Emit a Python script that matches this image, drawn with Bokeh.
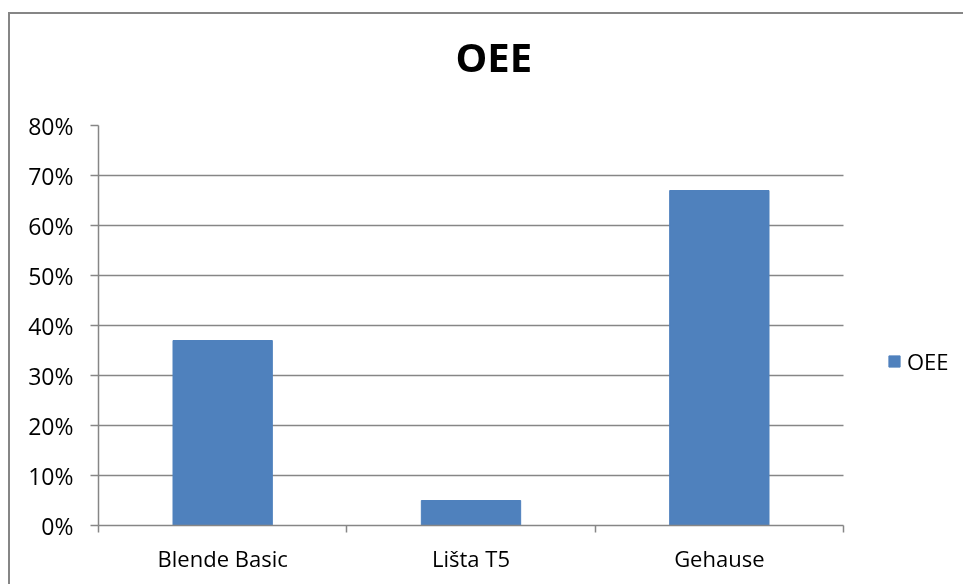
from bokeh.plotting import figure
from bokeh.models import (ColumnDataSource, FixedTicker, NumeralTickFormatter,
                          Legend, LegendItem)
from bokeh.embed import file_html
from bokeh.resources import INLINE

# Data
categories = ["Blende Basic", "Lišta T5", "Gehause"]
oee = [0.37, 0.05, 0.67]
y_ticks = [0.0, 0.1, 0.2, 0.3, 0.4, 0.5, 0.6, 0.7, 0.8]
series_name = "OEE"

FONT = "Open Sans"
GRAY = "#868686"
BAR = "#4F81BD"

n = len(categories)
# one numeric slot per category, bars centred in each slot
centers = [i + 0.5 for i in range(n)]
bounds = [float(i) for i in range(n + 1)]
src = ColumnDataSource(dict(x=centers, top=oee, cat=categories))

# plot area: 745 px for the bars, the rest on the right holds the legend
LEFT_W, PLOT_W, TOTAL_W = 90, 745, 975
FRAME_W = TOTAL_W - LEFT_W
x_end = n * FRAME_W / PLOT_W

p = figure(width=TOTAL_W, height=600, x_range=(0, x_end), y_range=(0, 0.8),
           output_backend="svg", toolbar_location=None, title=series_name,
           min_border_left=LEFT_W, min_border_right=0, min_border_top=0,
           min_border_bottom=59)
# chart area pinned to the page; thin gray frame line along top and left
line = f"linear-gradient({GRAY},{GRAY})"
p.styles = {"position": "fixed", "left": "8px", "top": "-16px",
            "background": f"{line} 0 28px / 100% 2px no-repeat, "
                          f"{line} 0 28px / 2px 100% no-repeat"}
p.outline_line_color = None
p.background_fill_color = None
p.border_fill_color = None

p.title.text_font = FONT
p.title.text_font_size = "40px"
p.title.text_font_style = "bold"
p.title.text_color = "black"
p.title.align = "left"
p.title.offset = 357
p.title.standoff = 84

r = p.vbar(x="x", top="top", bottom=0, width=0.4, source=src,
           fill_color=BAR, line_color=BAR)

# x axis: labels at slot centres, tick marks on slot boundaries
xa = p.xaxis[0]
xa.bounds = (0, n)
xa.ticker = FixedTicker(ticks=centers, minor_ticks=bounds)
xa.major_label_overrides = {c: name for c, name in zip(centers, categories)}
xa.major_tick_in = 0
xa.major_tick_out = 0
xa.minor_tick_in = 0
xa.minor_tick_out = 7
xa.minor_tick_line_color = GRAY
xa.minor_tick_line_width = 1.5
xa.axis_line_color = GRAY
xa.axis_line_width = 1.5
xa.major_label_text_font = FONT
xa.major_label_text_font_size = "22px"
xa.major_label_text_color = "black"
xa.major_label_standoff = 10
p.xgrid.visible = False

ya = p.yaxis[0]
ya.ticker = FixedTicker(ticks=y_ticks)
ya.formatter = NumeralTickFormatter(format="0%")
ya.major_tick_in = 0
ya.major_tick_out = 8
ya.minor_tick_out = 0
ya.major_tick_line_color = GRAY
ya.major_tick_line_width = 1.5
ya.axis_line_color = GRAY
ya.axis_line_width = 1.5
ya.major_label_text_font = FONT
ya.major_label_text_font_size = "23px"
ya.major_label_text_color = "black"
ya.major_label_standoff = 17
p.ygrid.ticker = FixedTicker(ticks=y_ticks)
p.ygrid.cross_bounds = (0, n)
p.ygrid.grid_line_color = GRAY
p.ygrid.grid_line_width = 1.5

legend = Legend(items=[LegendItem(label=series_name, renderers=[r])],
                location=(789, 149), orientation="vertical",
                glyph_width=14, glyph_height=14, label_standoff=6,
                padding=0, margin=0, border_line_color=None,
                background_fill_alpha=0, label_text_font=FONT,
                label_text_font_size="22px", label_text_color="black")
p.add_layout(legend)

open("out.html", "w").write(file_html(p, INLINE))
